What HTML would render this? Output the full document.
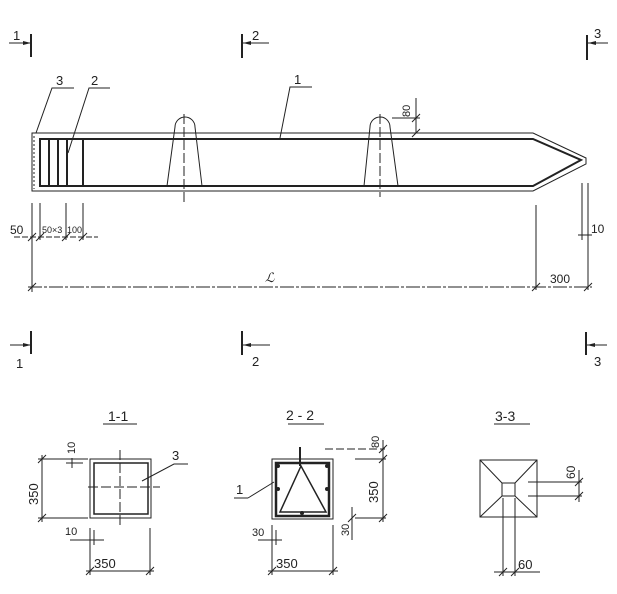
<!DOCTYPE html>
<html><head><meta charset="utf-8"><style>
html,body{margin:0;padding:0;background:#fff;}
svg{display:block;}
text{font-family:"Liberation Sans",sans-serif;fill:#222;}
</style></head><body>
<svg width="617" height="594" viewBox="0 0 617 594" xmlns="http://www.w3.org/2000/svg">
<defs>
<marker id="a" markerWidth="8" markerHeight="6" refX="8" refY="3" orient="auto" markerUnits="userSpaceOnUse"><path d="M0,1 L8,3 L0,5z" fill="#222"/></marker>
</defs>
<g stroke="#222" fill="none" stroke-width="1">
<line x1="31" y1="34" x2="31" y2="57" stroke-width="2"/>
<line x1="9" y1="43" x2="31" y2="43" marker-end="url(#a)"/>
<line x1="242" y1="34" x2="242" y2="58" stroke-width="2"/>
<line x1="269" y1="43" x2="243" y2="43" marker-end="url(#a)"/>
<line x1="587" y1="35" x2="587" y2="60" stroke-width="2"/>
<line x1="608" y1="43" x2="588" y2="43" marker-end="url(#a)"/>
<line x1="31" y1="331" x2="31" y2="354" stroke-width="2"/>
<line x1="10" y1="345" x2="31" y2="345" marker-end="url(#a)"/>
<line x1="242" y1="331" x2="242" y2="355" stroke-width="2"/>
<line x1="270" y1="345" x2="243" y2="345" marker-end="url(#a)"/>
<line x1="586" y1="332" x2="586" y2="355" stroke-width="2"/>
<line x1="607" y1="345" x2="587" y2="345" marker-end="url(#a)"/>

<path d="M32,133 L533,133 L586,158 L586,164 L533,191 L32,191 Z"/>
<path d="M39,139 L533,139 L581,160 L533,186 L39,186" stroke-width="2"/>
<line x1="34" y1="136" x2="34" y2="189" stroke-dasharray="2,2"/>
<g stroke-width="2">
<line x1="40" y1="139" x2="40" y2="186"/><line x1="49" y1="139" x2="49" y2="186"/>
<line x1="58" y1="139" x2="58" y2="186"/><line x1="67" y1="139" x2="67" y2="186"/>
<line x1="83" y1="139" x2="83" y2="186"/>
</g>
<path d="M167,186 L175,127 A10,10 0 0 1 195,127 L202,186"/>
<line x1="184" y1="114" x2="184" y2="203" stroke-dasharray="10,3"/>
<path d="M364,186 L370,127 A10,10 0 0 1 390,127 L398,186"/>
<line x1="380" y1="114" x2="380" y2="197" stroke-dasharray="10,3"/>
<path d="M36,133 L52,88 L74,88"/>
<path d="M68,153 L89,88 L110,88"/>
<path d="M280,138 L290,87 L312,87"/>
<line x1="392" y1="118" x2="420" y2="118"/><line x1="416" y1="98" x2="416" y2="133"/>
<line x1="412" y1="122" x2="420" y2="114"/><line x1="412" y1="137" x2="420" y2="129"/>
<line x1="32" y1="203" x2="32" y2="292"/>
<line x1="40" y1="203" x2="40" y2="240"/>
<line x1="66" y1="203" x2="66" y2="240"/>
<line x1="83" y1="203" x2="83" y2="240"/>
<line x1="14" y1="237" x2="98" y2="237" stroke-dasharray="6,2"/>
<line x1="28" y1="241" x2="36" y2="233"/><line x1="36" y1="241" x2="44" y2="233"/>
<line x1="62" y1="241" x2="70" y2="233"/><line x1="79" y1="241" x2="87" y2="233"/>
<line x1="28" y1="287" x2="592" y2="287" stroke-dasharray="14,2,3,2"/>
<line x1="28" y1="291" x2="36" y2="283"/><line x1="532" y1="291" x2="540" y2="283"/><line x1="584" y1="291" x2="592" y2="283"/>
<line x1="536" y1="205" x2="536" y2="290"/>
<line x1="588" y1="183" x2="588" y2="290"/>
<line x1="582" y1="183" x2="582" y2="240"/>
<line x1="578" y1="235" x2="592" y2="235"/>

<!-- Section 1-1 -->
<rect x="90" y="459" width="61" height="59"/>
<rect x="94" y="463" width="54" height="51" stroke-width="1.5"/>
<line x1="88" y1="487" x2="160" y2="487" stroke-dasharray="10,3"/>
<line x1="120" y1="450" x2="120" y2="527" stroke-dasharray="10,3"/>
<line x1="38" y1="459" x2="88" y2="459"/><line x1="38" y1="518" x2="88" y2="518"/>
<line x1="42" y1="455" x2="42" y2="522"/>
<line x1="38" y1="463" x2="46" y2="455"/><line x1="38" y1="522" x2="46" y2="514"/>
<line x1="66" y1="463" x2="83" y2="463"/><line x1="72" y1="458" x2="72" y2="468"/>
<path d="M142,481 L174,464 L188,464"/>
<line x1="90" y1="528" x2="90" y2="575"/><line x1="150" y1="528" x2="150" y2="575"/>
<line x1="94" y1="530" x2="94" y2="545"/>
<line x1="70" y1="540" x2="104" y2="540"/>
<line x1="86" y1="571" x2="154" y2="571"/>
<line x1="86" y1="575" x2="94" y2="567"/><line x1="146" y1="575" x2="154" y2="567"/>
<line x1="103" y1="424" x2="137" y2="424"/>

<!-- Section 2-2 -->
<rect x="272" y="459" width="61" height="60"/>
<rect x="276" y="463" width="53" height="53" stroke-width="2.5"/>
<line x1="300" y1="447" x2="300" y2="466" stroke-width="2"/>
<path d="M301,466 L280,512 L326,512 Z" stroke-width="1.5"/>
<line x1="288" y1="424" x2="324" y2="424"/>
<line x1="234" y1="498" x2="248" y2="498"/><line x1="248" y1="498" x2="274" y2="482"/>
<line x1="325" y1="449" x2="385" y2="449" stroke-dasharray="8,3"/>
<line x1="355" y1="459" x2="386" y2="459"/><line x1="355" y1="518" x2="386" y2="518"/>
<line x1="383" y1="440" x2="383" y2="522"/>
<line x1="379" y1="453" x2="387" y2="445"/><line x1="379" y1="463" x2="387" y2="455"/><line x1="379" y1="522" x2="387" y2="514"/>
<line x1="352" y1="507" x2="352" y2="540"/>
<line x1="348" y1="522" x2="356" y2="514"/>
<line x1="272" y1="525" x2="272" y2="575"/><line x1="333" y1="525" x2="333" y2="575"/>
<line x1="276" y1="530" x2="276" y2="545"/>
<line x1="258" y1="540" x2="282" y2="540"/>
<line x1="268" y1="571" x2="338" y2="571"/>
<line x1="268" y1="575" x2="276" y2="567"/><line x1="329" y1="575" x2="337" y2="567"/>

<!-- Section 3-3 -->
<rect x="480" y="460" width="57" height="57"/>
<rect x="502" y="483" width="13" height="13"/>
<line x1="480" y1="460" x2="502" y2="483"/><line x1="537" y1="460" x2="515" y2="483"/>
<line x1="480" y1="517" x2="502" y2="496"/><line x1="537" y1="517" x2="515" y2="496"/>
<line x1="494" y1="424" x2="530" y2="424"/>
<line x1="528" y1="482" x2="582" y2="482"/><line x1="528" y1="496" x2="582" y2="496"/>
<line x1="579" y1="470" x2="579" y2="502"/>
<line x1="575" y1="486" x2="583" y2="478"/><line x1="575" y1="500" x2="583" y2="492"/>
<line x1="503" y1="498" x2="503" y2="576"/><line x1="515" y1="498" x2="515" y2="576"/>
<line x1="494" y1="572" x2="540" y2="572"/>
<line x1="499" y1="576" x2="507" y2="568"/><line x1="511" y1="576" x2="519" y2="568"/>
</g>
<g fill="#222">
<circle cx="278" cy="466" r="2"/><circle cx="327" cy="466" r="2"/>
<circle cx="278" cy="489" r="2"/><circle cx="327" cy="489" r="2"/>
<circle cx="302" cy="513" r="2"/>
</g>
<g font-size="13">
<text x="13" y="40">1</text><text x="252" y="40">2</text><text x="594" y="38">3</text>
<text x="16" y="368">1</text><text x="252" y="366">2</text><text x="594" y="366">3</text>
<text x="56" y="85">3</text><text x="91" y="85">2</text><text x="294" y="84">1</text>
<text x="10" y="234" font-size="12">50</text>
<text x="42" y="233" font-size="9">50×3</text>
<text x="67" y="233" font-size="9">100</text>
<text x="265" y="282" font-style="italic" font-family="Liberation Serif">ℒ</text>
<text x="550" y="283" font-size="12">300</text>
<text x="591" y="233" font-size="12">10</text>
<text x="108" y="421" font-size="14">1-1</text>
<text x="286" y="420" font-size="14">2 - 2</text>
<text x="495" y="421" font-size="14">3-3</text>
<text x="172" y="460" font-size="13">3</text>
<text x="236" y="494" font-size="13">1</text>
<text x="94" y="568" font-size="13">350</text>
<text x="276" y="568" font-size="13">350</text>
<text x="518" y="569" font-size="13">60</text>
<text x="65" y="535" font-size="11">10</text>
<text x="252" y="536" font-size="11">30</text>
<text transform="translate(38,505) rotate(-90)" font-size="13">350</text>
<text transform="translate(75,454) rotate(-90)" font-size="11">10</text>
<text transform="translate(378,503) rotate(-90)" font-size="13">350</text>
<text transform="translate(379,448) rotate(-90)" font-size="11">80</text>
<text transform="translate(349,536) rotate(-90)" font-size="11">30</text>
<text transform="translate(575,479) rotate(-90)" font-size="12">60</text>
<text transform="translate(410,117) rotate(-90)" font-size="11">80</text>
</g>
</svg>
</body></html>
